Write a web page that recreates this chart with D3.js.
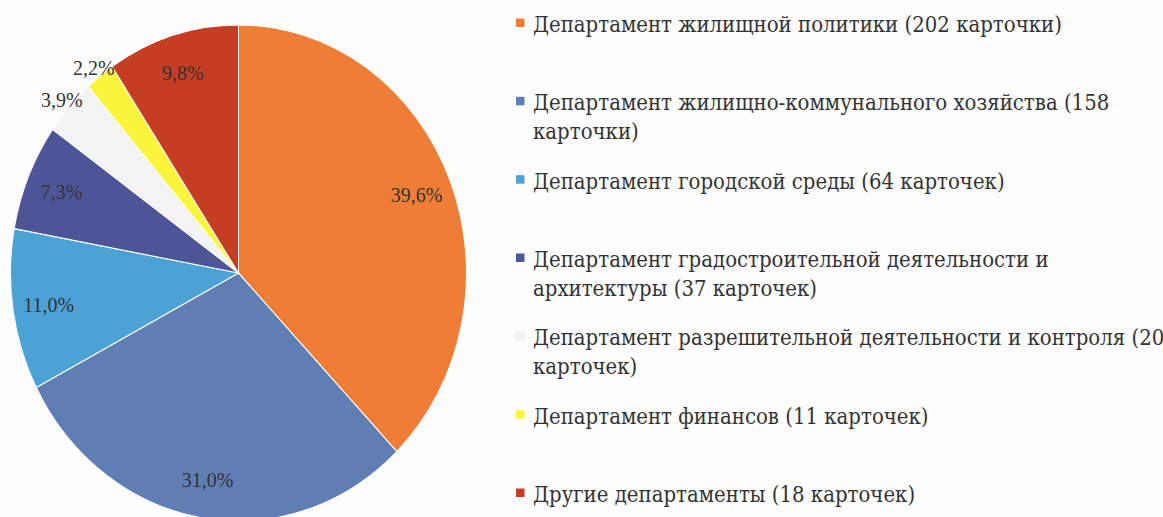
<!DOCTYPE html>
<html>
<head>
<meta charset="utf-8">
<script src="https://cdn.jsdelivr.net/npm/d3@7"></script>
<style>
  html, body { margin: 0; padding: 0; background: #fdfdfe; }
  svg { display: block; }
</style>
</head>
<body>
<svg id="chart" width="1163" height="517"></svg>
<script>
// ---- data ----
const categories = [
  "Департамент жилищной политики",
  "Департамент жилищно-коммунального хозяйства",
  "Департамент городской среды",
  "Департамент градостроительной деятельности и архитектуры",
  "Департамент разрешительной деятельности и контроля",
  "Департамент финансов",
  "Другие департаменты"
];
const percents = [39.6, 31.0, 11.0, 7.3, 3.9, 2.2, 9.8];
const legendLines = [
  ["Департамент жилищной политики (202 карточки)"],
  ["Департамент жилищно-коммунального хозяйства (158", "карточки)"],
  ["Департамент городской среды (64 карточек)"],
  ["Департамент градостроительной деятельности и", "архитектуры (37 карточек)"],
  ["Департамент разрешительной деятельности и контроля (20", "карточек)"],
  ["Департамент финансов (11 карточек)"],
  ["Другие департаменты (18 карточек)"]
];
const colors = ["#f07d36", "#5f7fb4", "#4aa3d4", "#4e5597", "#f3f3f3", "#faf53a", "#c53d23"];

// ---- drawing ----
const svg = d3.select("#chart");
const stretch = 1.088;           // the original picture is slightly stretched vertically
const R = 228;
const cx = 238.5, cy = 273;

const pie = d3.pie().sort(null).value(d => d.v);
const data = categories.map((c, i) => ({ name: c, v: percents[i], color: colors[i] }));
const arcs = pie(data);

const arc = d3.arc().innerRadius(0).outerRadius(R);
const g = svg.append("g").attr("transform", `translate(${cx},${cy}) scale(1,${stretch})`);

g.selectAll("path.slice")
  .data(arcs)
  .enter().append("path")
  .attr("class", "slice")
  .attr("d", arc)
  .attr("fill", d => d.data.color)
  .attr("stroke", "#ffffff")
  .attr("stroke-width", 1);

const fmt = v => d3.format(".1f")(v).replace(".", ",") + "%";
const inner = d3.arc().innerRadius(192).outerRadius(192);
const outer = d3.arc().innerRadius(238).outerRadius(238);

g.selectAll("text.lbl")
  .data(arcs)
  .enter().append("text")
  .attr("class", "lbl")
  .attr("transform", d => {
    const p = (d.data.v < 5 ? outer : inner).centroid(d);
    return `translate(${p[0]},${p[1]})`;
  })
  .attr("text-anchor", "middle")
  .attr("dy", "0.34em")
  .attr("font-family", "'Liberation Serif', 'Times New Roman', serif")
  .attr("font-size", 20)
  .attr("fill", "#333")
  .text(d => fmt(d.data.v));

// ---- legend ----
const legendFont = "'DejaVu Serif', serif";
const legendSize = 20;
const ly = d3.scaleLinear().domain([0, categories.length - 1]).range([24, 494]);
const lineH = 28.5;

// measure the first line to get the horizontal factor matching the original width
const probe = svg.append("text")
  .attr("font-family", legendFont).attr("font-size", legendSize)
  .text(legendLines[0][0]);
const sx = 529 / probe.node().getComputedTextLength();
probe.remove();

const legend = svg.append("g");
const items = legend.selectAll("g.item")
  .data(data)
  .enter().append("g")
  .attr("class", "item")
  .attr("transform", (d, i) => `translate(516,${ly(i)})`);

items.append("rect")
  .attr("x", 0)
  .attr("y", -5.5)
  .attr("width", 8.5)
  .attr("height", 8.5)
  .attr("fill", d => d.color)
  .attr("stroke", d => d.color === "#f3f3f3" ? "#eeeeee" : "none");

items.each(function (d, i) {
  legendLines[i].forEach((ln, k) => {
    d3.select(this).append("text")
      .attr("transform", `translate(17,${k * lineH + 8}) scale(${sx},${stretch})`)
      .attr("font-family", legendFont)
      .attr("font-size", legendSize)
      .attr("fill", "#333")
      .text(ln);
  });
});
</script>
</body>
</html>
